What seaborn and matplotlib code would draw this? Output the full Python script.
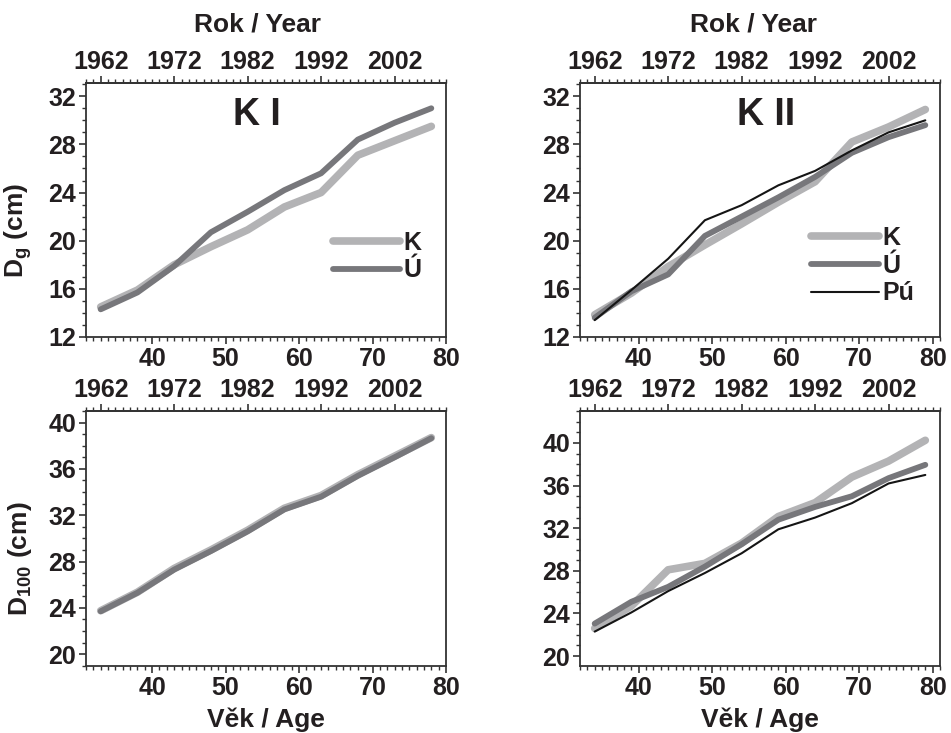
import matplotlib
matplotlib.use("Agg")
import matplotlib.pyplot as plt
from matplotlib.ticker import MultipleLocator, FixedLocator
import seaborn as sns
import pandas as pd

# ---------------- data ----------------
age_k1 = [33, 38, 43, 48, 53, 58, 63, 68, 73, 78]
age_k2 = [34, 39, 44, 49, 54, 59, 64, 69, 74, 79]

dg_k1_K = [14.5, 15.9, 18.0, 19.5, 20.9, 22.8, 24.0, 27.1, 28.3, 29.5]
dg_k1_U = [14.3, 15.7, 17.9, 20.7, 22.4, 24.2, 25.6, 28.4, 29.8, 31.0]

dg_k2_K = [13.85, 15.65, 17.85, 19.65, 21.4, 23.2, 24.9, 28.2, 29.45, 30.9]
dg_k2_U = [13.6, 15.8, 17.2, 20.4, 22.0, 23.6, 25.3, 27.3, 28.6, 29.6]
dg_k2_Pu = [13.4, 15.9, 18.5, 21.7, 22.95, 24.6, 25.8, 27.5, 29.0, 30.0]

d100_k1_K = [23.75, 25.35, 27.4, 29.0, 30.7, 32.6, 33.7, 35.5, 37.1, 38.7]
d100_k1_U = [23.7, 25.3, 27.3, 28.9, 30.6, 32.5, 33.6, 35.4, 37.0, 38.65]

d100_k2_K = [22.6, 24.7, 28.1, 28.7, 30.6, 33.1, 34.4, 36.8, 38.3, 40.25]
d100_k2_U = [23.05, 25.1, 26.5, 28.4, 30.5, 32.8, 34.0, 35.0, 36.7, 37.95]
d100_k2_Pu = [22.3, 24.1, 26.1, 27.8, 29.65, 31.9, 33.0, 34.35, 36.2, 37.0]

year_ticks = [1962, 1972, 1982, 1992, 2002]
age_ticks = [40, 50, 60, 70, 80]
labels = ["K", "Ú", "Pú"]

# ---------------- style ----------------
sns.set_style("ticks")
plt.rcParams["font.family"] = ["Liberation Sans", "DejaVu Sans"]
plt.rcParams["font.weight"] = "bold"
plt.rcParams["mathtext.fontset"] = "custom"
plt.rcParams["mathtext.rm"] = "Liberation Sans:bold"
plt.rcParams["mathtext.bf"] = "Liberation Sans:bold"
plt.rcParams["mathtext.it"] = "Liberation Sans:bold"

TXT = "#231f20"
SP = "#333333"
TICK_FS = 18
LAB_FS = 19
styles = {
    "K": dict(color="#b3b3b5", lw=5.5),
    "Ú": dict(color="#77777b", lw=4.2),
    "Pú": dict(color="#151515", lw=1.5),
}

fig = plt.figure(figsize=(9.51, 7.33), dpi=100)

W = 360 / 951
H = 254 / 733
pos = {
    "tl": [86 / 951, 1 - 337 / 733, W, H],
    "tr": [580 / 951, 1 - 337 / 733, W, H],
    "bl": [86 / 951, 1 - 665.7 / 733, W, 254.7 / 733],
    "br": [580 / 951, 1 - 665.7 / 733, W, 254.7 / 733],
}


def panel(key, ages, series, xlim, ylim, yticks, year_off, ylabel=None,
          title=None, title_x=0.5, legend_anchor=None, xlabel_bottom=False):
    ax = fig.add_axes(pos[key])
    rows = []
    for name, vals in series:
        for a, v in zip(ages, vals):
            rows.append({"age": a, "val": v, "s": name})
    df = pd.DataFrame(rows)
    for name, _ in series:
        st = styles[name]
        sns.lineplot(data=df[df.s == name], x="age", y="val", ax=ax,
                     color=st["color"], linewidth=st["lw"], label=name,
                     solid_capstyle="round", solid_joinstyle="round",
                     legend=False)
    ax.set_xlim(*xlim)
    ax.set_ylim(*ylim)
    ax.set_xticks(age_ticks)
    ax.xaxis.set_minor_locator(MultipleLocator(1))
    ax.set_yticks(yticks)
    ax.yaxis.set_minor_locator(MultipleLocator(1))
    ax.tick_params(axis="both", which="major", direction="out", length=5,
                   width=1.2, color=SP, labelsize=TICK_FS, labelcolor=TXT, pad=2)
    ax.tick_params(axis="both", which="minor", direction="out", length=2.8,
                   width=1.0, color=SP)
    ax.tick_params(axis="x", which="major", pad=2.5)
    ax.tick_params(right=False, top=False)
    for sp in ax.spines.values():
        sp.set_visible(True)
        sp.set_linewidth(1.3)
        sp.set_color(SP)
    for lab in ax.get_xticklabels() + ax.get_yticklabels():
        lab.set_fontweight("bold")
    ax.set_xlabel("")
    ax.set_ylabel("")

    sec = ax.secondary_xaxis("top", functions=(lambda a, o=year_off: a + o,
                                                lambda y, o=year_off: y - o))
    sec.xaxis.set_major_locator(FixedLocator(year_ticks))
    sec.xaxis.set_minor_locator(MultipleLocator(1))
    sec.tick_params(axis="x", which="major", direction="out", length=5,
                    width=1.2, color=SP, labelsize=TICK_FS, labelcolor=TXT, pad=1.5)
    sec.tick_params(axis="x", which="minor", direction="out", length=2.8,
                    width=1.0, color=SP)
    for lab in sec.get_xticklabels():
        lab.set_fontweight("bold")
    sec.spines["top"].set_linewidth(1.3)
    sec.spines["top"].set_color(SP)

    if xlabel_bottom:
        ax.set_xlabel("Věk / Age", fontsize=LAB_FS, fontweight="bold",
                      color=TXT, labelpad=5)
    if ylabel:
        ax.set_ylabel(ylabel, fontsize=LAB_FS, fontweight="bold", color=TXT)
        ax.yaxis.set_label_coords(-0.145, 0.42)
    if title:
        ax.text(title_x, 0.874, title, transform=ax.transAxes, ha="center",
                va="center", fontsize=27, fontweight="bold", color=TXT)
    if legend_anchor:
        leg = ax.legend(loc="center left", bbox_to_anchor=legend_anchor,
                        frameon=False, fontsize=18, handlelength=2.7,
                        handletextpad=0.15, labelspacing=0.15,
                        borderpad=0, borderaxespad=0)
        for t in leg.get_texts():
            t.set_fontweight("bold")
            t.set_color(TXT)
    return ax


panel("tl", age_k1, [("K", dg_k1_K), ("Ú", dg_k1_U)], (31, 80),
      (12, 33.1), [12, 16, 20, 24, 28, 32], 1929,
      ylabel=r"D$_{\mathregular{g}}$ (cm)", title="K I",
      title_x=0.475, legend_anchor=(0.685, 0.317))
panel("tr", age_k2, [("K", dg_k2_K), ("Ú", dg_k2_U), ("Pú", dg_k2_Pu)],
      (32, 81), (12, 33.1), [12, 16, 20, 24, 28, 32], 1928,
      title="K II", title_x=0.517, legend_anchor=(0.643, 0.281))
panel("bl", age_k1, [("K", d100_k1_K), ("Ú", d100_k1_U)], (31, 80),
      (19, 41), [20, 24, 28, 32, 36, 40], 1929,
      ylabel=r"D$_{\mathregular{100}}$ (cm)", xlabel_bottom=True)
panel("br", age_k2, [("K", d100_k2_K), ("Ú", d100_k2_U), ("Pú", d100_k2_Pu)],
      (32, 81), (19.1, 43), [20, 24, 28, 32, 36, 40], 1928,
      xlabel_bottom=True)

# top "Rok / Year" labels above the year ticks
for cx in (257, 753):
    fig.text(cx / 951, 1 - 24 / 733, "Rok / Year", ha="center", va="center",
             fontsize=LAB_FS, fontweight="bold", color=TXT)

fig.savefig("out.png", dpi=100)
